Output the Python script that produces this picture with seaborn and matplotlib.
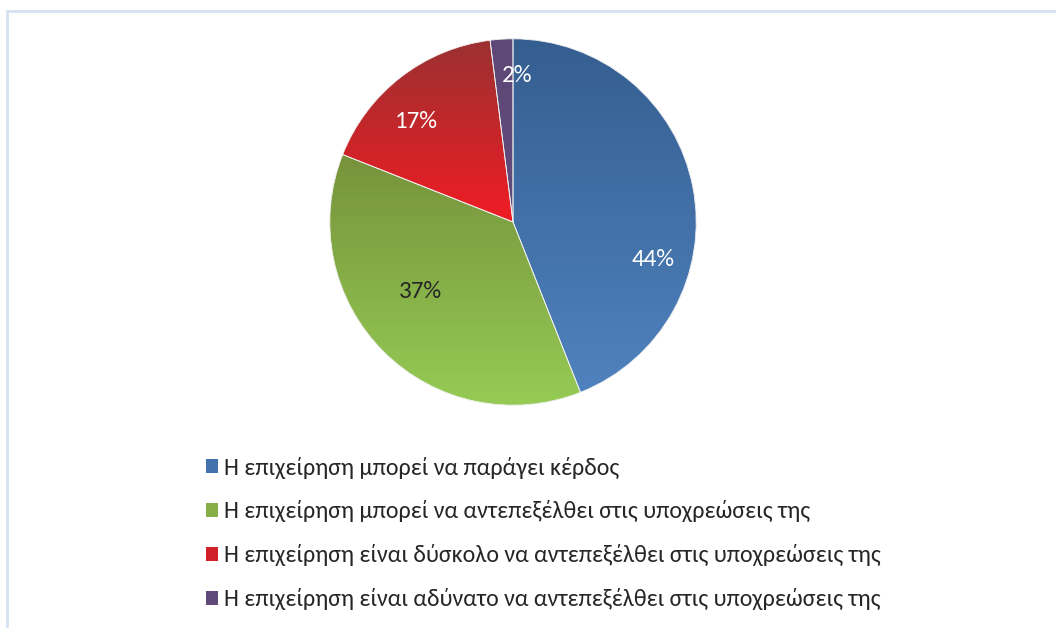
import numpy as np
import matplotlib
matplotlib.use("Agg")
import matplotlib.pyplot as plt
import matplotlib.patches as mpatches
from matplotlib import font_manager
from matplotlib.colors import to_rgb
import seaborn as sns

categories = [
    "Η επιχείρηση μπορεί να παράγει κέρδος",
    "Η επιχείρηση μπορεί να αντεπεξέλθει στις υποχρεώσεις της",
    "Η επιχείρηση είναι δύσκολο να αντεπεξέλθει στις υποχρεώσεις της",
    "Η επιχείρηση είναι αδύνατο να αντεπεξέλθει στις υποχρεώσεις της",
]
values = [44, 37, 17, 2]
pct_labels = ["44%", "37%", "17%", "2%"]

top_colors = ["#355e90", "#76923b", "#9b3131", "#5d4877"]
bottom_colors = ["#4f82be", "#96cc55", "#f01c24", "#614b7d"]
mid_colors = ["#4472ad", "#86af48", "#d2202a", "#5f4a7b"]
label_colors = ["white", "#262626", "white", "white"]
# label placement (radius fraction, angle in degrees)
label_pos = [(0.79, -15), (0.63, 217), (0.76, 134), (0.80, 88.5)]

sns.set_theme(style="white")
avail = {f.name for f in font_manager.fontManager.ttflist}
main_font = "Carlito" if "Carlito" in avail else "Lato"
plt.rcParams["font.family"] = [main_font, "DejaVu Sans"]

fig = plt.figure(figsize=(10.56, 6.28), dpi=100)
fig.patch.set_facecolor("white")

# outer frame
fig.add_artist(mpatches.Rectangle((7 / 1056, -0.05), 1.2, (628 - 11) / 628 + 0.05,
                                  transform=fig.transFigure, fill=False,
                                  edgecolor="#d6e2f2", linewidth=2.0))

ax = fig.add_axes([0.3106, 0.3519, 0.3504, 0.5892])
wedges, _ = ax.pie(values, colors=mid_colors, startangle=90, counterclock=False,
                   wedgeprops=dict(edgecolor="white", linewidth=0.6))
ax.set_aspect("equal")
ax.axis("off")

# vertical gradient fill per slice
for w, ct, cb in zip(wedges, top_colors, bottom_colors):
    verts = w.get_path().vertices
    xmin, ymin = verts.min(axis=0)
    xmax, ymax = verts.max(axis=0)
    t = np.linspace(0, 1, 256)[:, None]
    c0 = np.array(to_rgb(cb))
    c1 = np.array(to_rgb(ct))
    grad = (c0[None, :] * (1 - t) + c1[None, :] * t)[:, None, :]
    im = ax.imshow(grad, extent=[xmin, xmax, ymin, ymax], origin="lower",
                   aspect="auto", zorder=w.get_zorder() + 0.1, interpolation="bilinear")
    im.set_clip_path(w)
    edge = mpatches.Wedge(w.center, w.r, w.theta1, w.theta2, facecolor="none",
                          edgecolor="#f0f0f0", linewidth=0.6, zorder=w.get_zorder() + 0.2)
    ax.add_patch(edge)
ax.set_xlim(-1.01, 1.01)
ax.set_ylim(-1.01, 1.01)

for txt, col, (r, a) in zip(pct_labels, label_colors, label_pos):
    ax.text(r * np.cos(np.radians(a)), r * np.sin(np.radians(a)), txt,
            ha="center", va="center", color=col, fontsize=18, zorder=10)

handles = [mpatches.Patch(facecolor=c, edgecolor="none") for c in mid_colors]
leg = fig.legend(handles, categories, loc="upper left",
                 bbox_to_anchor=(196 / 1056, 1 - 447 / 628), frameon=False,
                 fontsize=17.3, handlelength=0.5, handleheight=0.5,
                 handletextpad=0.25, labelspacing=0.91, borderaxespad=0)
for t in leg.get_texts():
    t.set_color("#262626")

fig.savefig("out.png", dpi=100, facecolor="white")
